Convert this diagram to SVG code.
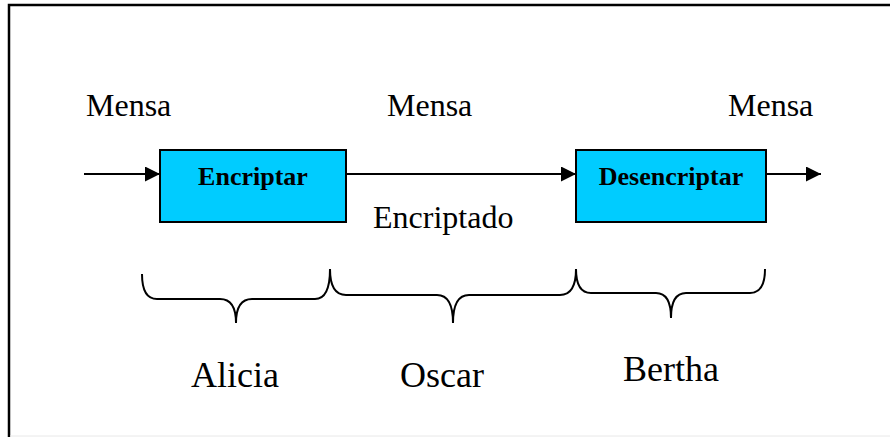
<svg xmlns="http://www.w3.org/2000/svg" width="890" height="437" viewBox="0 0 890 437">
<style>
.t{font-family:"Liberation Serif","Times New Roman",serif;fill:#000}
.m{font-size:32px}
.n{font-size:36px}
.b{font-size:26px;font-weight:bold;text-anchor:middle}
.box{fill:#00CCFF;stroke:#000;stroke-width:2}
.ln{stroke:#000;stroke-width:2;fill:none}
.br{stroke:#000;stroke-width:2;fill:none}
</style>
<defs>
<marker id="ah" markerWidth="15" markerHeight="15" viewBox="0 0 15 15" refX="15" refY="7.5" markerUnits="userSpaceOnUse" orient="auto">
<path d="M0,0 L15,7.5 L0,15 Z" fill="#000"/>
</marker>
</defs>
<rect x="0" y="0" width="890" height="437" fill="#fff"/>
<g id="frame">
<path d="M9,437 L9,5 L890,5" stroke="#000" stroke-width="2.5" fill="none"/>
<line x1="10" y1="436" x2="890" y2="436" stroke="#e8e8e8" stroke-width="1"/>
</g>
<g id="connectors">
<line class="ln" x1="84" y1="174" x2="160" y2="174" marker-end="url(#ah)"/>
<line class="ln" x1="346" y1="174" x2="576" y2="174" marker-end="url(#ah)"/>
<line class="ln" x1="766" y1="174" x2="821" y2="174" marker-end="url(#ah)"/>
</g>
<g id="encriptar">
<rect class="box" x="160" y="150" width="186" height="72"/>
<text class="t b" x="253" y="185">Encriptar</text>
</g>
<g id="desencriptar">
<rect class="box" x="576" y="150" width="190" height="72"/>
<text class="t b" x="671" y="185">Desencriptar</text>
</g>
<g id="labels">
<text class="t m" x="86" y="116">Mensa</text>
<text class="t m" x="387" y="116">Mensa</text>
<text class="t m" x="728" y="116">Mensa</text>
<text class="t m" x="373" y="228">Encriptado</text>
</g>
<g id="alicia">
<path class="br" d="M142,274 Q142,299 157,299 L220,299 Q236,299 236,323 Q236,299 252,299 L315,299 Q330,299 330,269"/>
<text class="t n" x="191" y="387">Alicia</text>
</g>
<g id="oscar">
<path class="br" d="M330,269 Q330,295 346,295 L437,295 Q453,295 453,323 Q453,295 469,295 L560,295 Q576,295 576,269"/>
<text class="t n" x="400" y="387">Oscar</text>
</g>
<g id="bertha">
<path class="br" d="M576,269 Q576,293 591,293 L656,293 Q671,293 671,318 Q671,293 686,293 L750,293 Q765,293 765,269"/>
<text class="t n" x="623" y="381">Bertha</text>
</g>
</svg>
